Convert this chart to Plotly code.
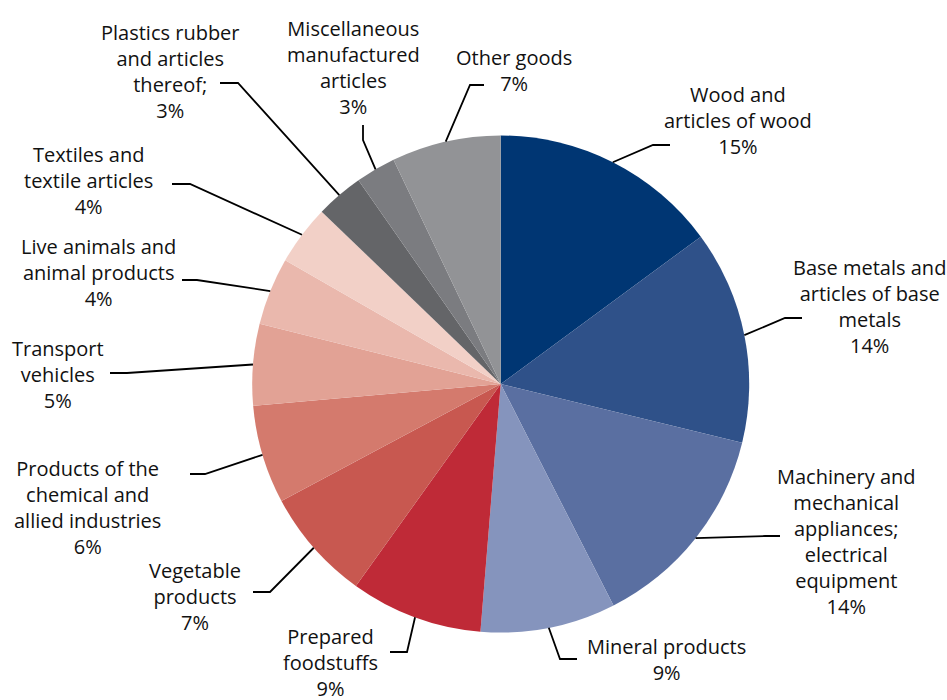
import math
import plotly.graph_objects as go

# Goods categories, clockwise from 12 o'clock
categories = [
    "Wood and<br>articles of wood",
    "Base metals and<br>articles of base<br>metals",
    "Machinery and<br>mechanical<br>appliances;<br>electrical<br>equipment",
    "Mineral products",
    "Prepared<br>foodstuffs",
    "Vegetable<br>products",
    "Products of the<br>chemical and<br>allied industries",
    "Transport<br>vehicles",
    "Live animals and<br>animal products",
    "Textiles and<br>textile articles",
    "Plastics rubber<br>and articles<br>thereof;",
    "Miscellaneous<br>manufactured<br>articles",
    "Other goods",
]
# Share of total (%)
shares = [14.9, 13.9, 13.7, 8.8, 8.6, 7.3, 6.4, 5.3, 4.4, 3.9, 3.1, 2.6, 7.1]

colors = ["#003673", "#2f5189", "#5a6fa1", "#8594bd", "#bf2a37", "#c85850",
          "#d47a6d", "#e2a295", "#eab8ad", "#f2d0c7", "#646568", "#7b7c80",
          "#929396"]

W, H = 947, 700
CX, CY, R = 500.7, 384.0, 248.5

# Label block centres and leader-line elbow/end points (pixels)
label_pos = [(738, 120), (869, 306), (846, 541), (666, 659), (330, 662),
             (195, 596), (87, 507), (58, 374), (98, 272), (88, 180),
             (170, 71), (353, 67), (514, 70)]
leader_pts = [
    [(653, 145), (670, 145)],
    [(785, 318), (802, 318)],
    [(765, 536), (780, 536)],
    [(560, 659), (577, 659)],
    [(407, 652), (390, 652)],
    [(270, 592), (253, 592)],
    [(205, 474), (190, 474)],
    [(127, 373), (110, 373)],
    [(197, 280), (182, 280)],
    [(190, 184), (172, 184)],
    [(238, 83), (220, 83)],
    [(363, 140), (363, 125)],
    [(470, 85), (484, 85)],
]

fig = go.Figure()
fig.add_trace(go.Pie(
    labels=categories,
    values=shares,
    sort=False,
    direction="clockwise",
    rotation=0,
    marker=dict(colors=colors, line=dict(width=0)),
    textinfo="none",
    hoverinfo="label+percent",
    showlegend=False,
    domain=dict(x=[(CX - R) / W, (CX + R) / W],
                y=[1 - (CY + R) / H, 1 - (CY - R) / H]),
))

total = sum(shares)
cum = 0.0
shapes = []
annotations = []
for name, v, (lx, ly), pts in zip(categories, shares, label_pos, leader_pts):
    mid = (cum + v / 2) / total * 2 * math.pi
    cum += v
    sx = CX + R * math.sin(mid)
    sy = CY - R * math.cos(mid)
    path = f"M{sx},{sy}" + "".join(f" L{px},{py}" for px, py in pts)
    shapes.append(dict(type="path", path=path, xref="x", yref="y",
                       line=dict(color="#000000", width=1.8)))
    pct = round(v / total * 100)
    annotations.append(dict(x=lx, y=ly, xref="x", yref="y",
                            text=f"{name}<br>{pct}%", showarrow=False,
                            xanchor="center", yanchor="middle", align="center",
                            font=dict(family="Open Sans, sans-serif",
                                      size=20, color="#111111")))

fig.update_layout(
    width=W, height=H,
    margin=dict(l=0, r=0, t=0, b=0),
    paper_bgcolor="white", plot_bgcolor="rgba(0,0,0,0)",
    xaxis=dict(range=[0, W], visible=False, fixedrange=True),
    yaxis=dict(range=[H, 0], visible=False, fixedrange=True),
    shapes=shapes,
    annotations=annotations,
)

fig.write_html("out.html")
